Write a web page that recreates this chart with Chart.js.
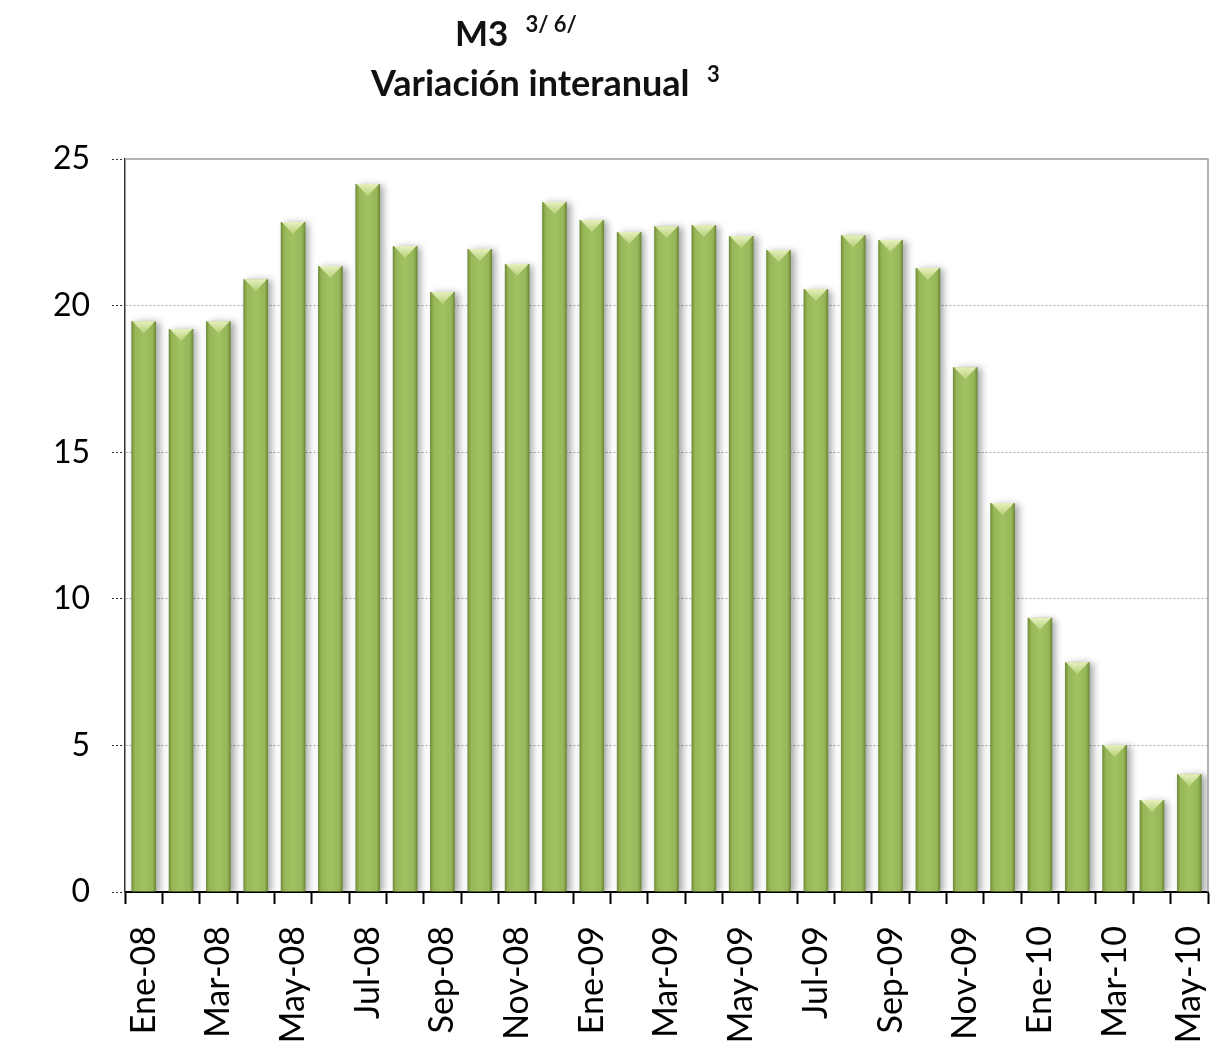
<!DOCTYPE html>
<html>
<head>
<meta charset="utf-8">
<script src="https://cdn.jsdelivr.net/npm/chart.js@4"></script>
<style>
  html, body { margin: 0; padding: 0; background: #fff; }
  #wrap { position: relative; width: 1226px; height: 1051px; }
  .t { position: absolute; white-space: nowrap; font-family: Lato, "Open Sans", sans-serif;
    font-weight: bold; font-size: 35px; line-height: 40px; color: #111; }
  .t sup { font-size: 22px; vertical-align: 14px; line-height: 0; }
</style>
</head>
<body>
<div id="wrap">
  <div class="t" style="left:455px; top:12px;">M3 &nbsp;<sup>3/ 6/</sup></div>
  <div class="t" style="left:371px; top:62px; font-size:36px;">Variación interanual &nbsp;<sup>3</sup></div>
  <canvas id="chart" width="1226" height="1051"></canvas>
</div>
<script>
// meses (etiquetas del eje x)
const months = [
  'Ene-08', 'Feb-08', 'Mar-08', 'Abr-08', 'May-08', 'Jun-08', 'Jul-08', 'Ago-08', 'Sep-08', 'Oct-08', 'Nov-08', 'Dic-08',
  'Ene-09', 'Feb-09', 'Mar-09', 'Abr-09', 'May-09', 'Jun-09', 'Jul-09', 'Ago-09', 'Sep-09', 'Oct-09', 'Nov-09', 'Dic-09',
  'Ene-10', 'Feb-10', 'Mar-10', 'Abr-10', 'May-10'
];

// variación interanual de M3 (%)
const m3Values = [
  19.47, 19.2, 19.47, 20.9, 22.85, 21.35, 24.15, 22.03, 20.46, 21.93, 21.42, 23.53,
  22.92, 22.51, 22.71, 22.75, 22.37, 21.9, 20.57, 22.4, 22.24, 21.28, 17.9, 13.27,
  9.35, 7.84, 5.01, 3.14, 4.02
];

const yTicks = [0, 5, 10, 15, 20, 25];

const BAR_PCT = 0.66;

// degradado horizontal de cada barra, calculado con la escala x
const barFill = (c) => {
  const chart = c.chart, xs = chart.scales.x;
  if (!chart.chartArea || !xs || c.dataIndex === undefined) return '#9bbb59';
  const cx = xs.getPixelForValue(c.dataIndex);
  const half = (xs.width / months.length) * BAR_PCT / 2;
  const g = chart.ctx.createLinearGradient(cx - half, 0, cx + half, 0);
  g.addColorStop(0, '#6f8a38');
  g.addColorStop(0.14, '#96b657');
  g.addColorStop(0.5, '#a2c163');
  g.addColorStop(0.86, '#96b657');
  g.addColorStop(1, '#6a8535');
  return g;
};

// sombra y bisel de las barras, borde del área
const barLook = {
  id: 'barLook',
  beforeDatasetsDraw(chart) {
    const ctx = chart.ctx;
    ctx.save();
    ctx.shadowColor = 'rgba(0,0,0,0.35)';
    ctx.shadowBlur = 7;
    ctx.shadowOffsetX = 4;
    ctx.shadowOffsetY = 1;
  },
  afterDatasetsDraw(chart) {
    const ctx = chart.ctx;
    ctx.restore();
    ctx.save();
    chart.getDatasetMeta(0).data.forEach(el => {
      const l = el.x - el.width / 2, r = el.x + el.width / 2;
      const g = ctx.createLinearGradient(0, el.y, 0, el.y + 12);
      g.addColorStop(0, '#e6f0bd');
      g.addColorStop(1, '#b7d078');
      ctx.fillStyle = g;
      ctx.beginPath();
      ctx.moveTo(l + 1, el.y);
      ctx.lineTo(r - 1, el.y);
      ctx.lineTo(el.x, el.y + 12);
      ctx.closePath();
      ctx.fill();
    });
    ctx.restore();
  },
  afterDraw(chart) {
    const a = chart.chartArea, ctx = chart.ctx;
    ctx.save();
    ctx.strokeStyle = '#9a9a9a';
    ctx.lineWidth = 1.5;
    ctx.beginPath();
    ctx.moveTo(a.left, a.top);
    ctx.lineTo(a.right, a.top);
    ctx.lineTo(a.right, a.bottom);
    ctx.stroke();
    ctx.restore();
  }
};

new Chart(document.getElementById('chart').getContext('2d'), {
  type: 'bar',
  data: {
    labels: months,
    datasets: [{
      data: m3Values,
      backgroundColor: barFill,
      borderWidth: 0,
      barPercentage: BAR_PCT,
      categoryPercentage: 1
    }]
  },
  options: {
    responsive: false,
    animation: false,
    layout: { padding: { top: 159, right: 18, left: 0, bottom: 0 } },
    plugins: { legend: { display: false }, tooltip: { enabled: false } },
    scales: {
      x: {
        afterFit: s => { s.height = 159; s.paddingLeft = 0; s.paddingRight = 0; },
        grid: { offset: true, drawOnChartArea: false, tickLength: 12, tickColor: '#000', tickWidth: 2 },
        border: { color: '#000', width: 2 },
        ticks: {
          autoSkip: false, maxRotation: 90, minRotation: 90, padding: 22,
          color: '#000', font: { family: 'Lato, "Open Sans", sans-serif', size: 34 },
          callback: (v, i) => (i % 2 === 0 ? months[i] : '')
        }
      },
      y: {
        min: 0, max: 25,
        afterFit: s => { s.width = 125; },
        afterBuildTicks: s => { s.ticks = yTicks.map(v => ({ value: v })); },
        grid: {
          color: c => (c.tick && c.tick.value === 25 ? 'rgba(0,0,0,0)' : '#a6a6a6'),
          lineWidth: 1, tickLength: 13, tickColor: '#333', tickBorderDash: [2, 2]
        },
        border: { color: '#333', dash: [2, 2], width: 1.5 },
        ticks: { padding: 22, color: '#000', font: { family: 'Lato, "Open Sans", sans-serif', size: 32 } }
      }
    }
  },
  plugins: [barLook]
});
</script>
</body>
</html>
